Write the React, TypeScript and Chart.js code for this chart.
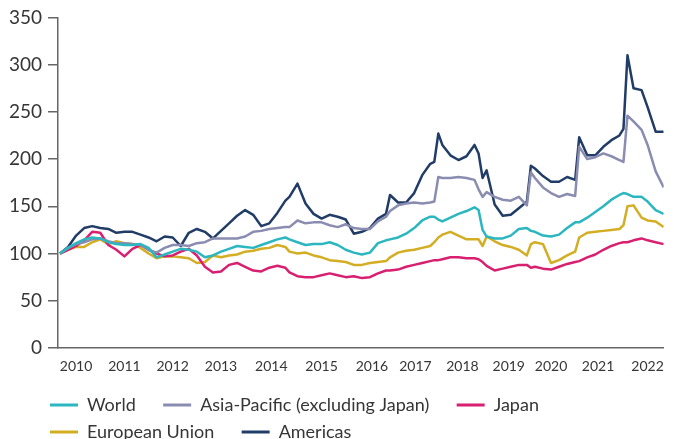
import React, { useEffect, useRef } from 'react';
import { Chart, registerables } from 'chart.js';
Chart.register(...registerables);

// months since January 2010
const months = [0,2,4,6,8,10,12,14,16,18,20,22,24,26,28,30,32,34,36,38,40,42,44,46,48,50,52,54,56,57,59,61,63,65,67,69,71,73,75,77,79,81,82,84,86,88,90,92,93,94,95,97,99,101,103,104,105,106,108,110,112,114,116,117,118,120,122,124,126,128,129,131,133,135,137,139,140,141,142.5,144.5,146,148,150];

const world = [100,106,111,115,117,116,112,110,109,109,
  110,106,96,99,102,105,104,102,96,98,
  102,105,108,107,106,109,112,115,117,115,
  112,109,110,110,112,109,104,101,99,101,
  111,114,115,117,121,127,135,139,139,136,
  134,138,142,145,149,146,125,118,116,116,
  119,126,127,124,123,119,118,120,127,133,
  133,138,144,150,157,162,164,163,160,160,
  155,146,142];

const asiaPacific = [100,106,110,112,115,116,113,111,111,110,
  109,104,101,106,109,109,108,111,112,116,
  116,116,116,118,123,124,126,127,128,128,
  135,132,133,133,130,128,131,127,126,126,
  134,139,145,151,153,154,153,154,155,181,
  180,180,181,180,178,168,160,165,160,157,
  156,160,151,186,180,170,164,160,163,161,
  213,200,202,206,203,199,197,246,240,231,
  215,187,170];

const japan = [100,104,108,114,123,122,109,104,97,105,
  109,104,100,97,98,102,105,98,86,80,
  81,88,90,86,82,81,85,87,85,80,
  76,75,75,77,79,77,75,76,74,75,
  79,82,82,83,86,88,90,92,93,93,
  94,96,96,95,95,94,91,87,82,84,
  86,88,88,85,86,84,83,86,89,91,
  92,96,99,104,108,111,112,112,114,116,
  114,112,110];

const europeanUnion = [100,104,107,107,112,115,110,113,111,110,
  106,100,95,97,97,96,95,90,91,98,
  96,98,99,102,103,105,106,109,107,102,
  100,101,98,96,93,92,91,88,88,90,
  91,92,96,101,103,104,106,108,112,117,
  120,123,119,115,115,115,108,118,113,109,
  107,104,98,110,112,110,90,93,98,102,
  117,122,123,124,125,126,130,150,151,138,
  135,134,128];

const americas = [100,107,119,127,129,127,126,122,123,123,
  120,117,113,118,117,108,122,126,123,116,
  124,132,140,146,141,129,132,143,156,160,
  174,153,142,137,141,139,136,121,123,127,
  137,142,162,154,154,164,183,195,197,227,
  215,204,199,203,215,206,180,188,152,140,
  141,148,155,193,190,182,176,176,181,178,
  223,204,204,213,220,225,232,310,275,273,
  255,229,229];

const yearTickMonths = [4, 16, 28, 40, 52.5, 65, 77.5, 88.3, 100, 111.5, 122, 133.7, 146];
const yearLabels = ['2010','2011','2012','2013','2014','2015','2016','2017','2018','2019','2020','2021','2022'];

const seriesNames = ['World', 'Asia-Pacific (excluding Japan)', 'Japan', 'European Union', 'Americas'];
const seriesColors = ['#2bb6c0', '#8a8cb0', '#d81f70', '#d3ad22', '#213c66'];
const seriesValues = [world, asiaPacific, japan, europeanUnion, americas];

const FONT = "Lato, 'Open Sans', sans-serif";
const TEXT = '#363636';
const AXIS = '#666666';

// moves the legend block so that it starts under the y-axis labels
const legendShift = {
  id: 'legendShift',
  afterLayout(chart: any) {
    const lg = chart.legend;
    if (lg) {
      lg.left += 41;
      lg.right += 41;
    }
  },
};

export default function App() {
  const ref = useRef<HTMLCanvasElement>(null);
  useEffect(() => {
    const canvas = ref.current!;
    const datasets = seriesNames.map((name, k) => ({
      label: name,
      data: months.map((m, i) => ({ x: m, y: seriesValues[k][i] })),
      borderColor: seriesColors[k],
      backgroundColor: seriesColors[k],
      borderWidth: 2.5,
      pointRadius: 0,
      tension: 0,
      fill: false,
      borderJoinStyle: 'round' as const,
    }));
    const chart = new Chart(canvas, {
      type: 'line',
      data: { datasets },
      plugins: [legendShift],
      options: {
        responsive: false,
        animation: false,
        layout: { padding: { left: 0, right: 6, top: 17, bottom: -12 } },
        plugins: {
          tooltip: { enabled: false },
          legend: {
            position: 'bottom',
            align: 'start',
            labels: {
              boxWidth: 28,
              boxHeight: 3,
              padding: 9,
              color: TEXT,
              font: { family: FONT, size: 18 },
              generateLabels: (c: any) =>
                (Chart.defaults.plugins.legend.labels.generateLabels as any)(c).map((it: any) => ({
                  ...it,
                  text: it.text + '    ',
                  lineWidth: 0,
                })),
            },
          },
        },
        scales: {
          x: {
            type: 'linear',
            min: -0.5,
            max: 150,
            afterBuildTicks: (scale: any) => {
              scale.ticks = yearTickMonths.map((v) => ({ value: v }));
            },
            afterFit: (scale: any) => {
              scale.height = 39;
            },
            ticks: {
              autoSkip: false,
              maxRotation: 0,
              padding: 10,
              color: TEXT,
              font: { family: FONT, size: 14 },
              callback: (_v: any, i: number) => yearLabels[i],
            },
            grid: { display: false, drawTicks: false },
            border: { display: true, color: AXIS, width: 1.5 },
          },
          y: {
            min: 0,
            max: 350,
            afterFit: (scale: any) => {
              scale.width = 58;
            },
            ticks: {
              stepSize: 50,
              padding: 6,
              color: TEXT,
              font: { family: FONT, size: 19 },
            },
            grid: { drawOnChartArea: false, drawTicks: true, tickLength: 10, color: AXIS, lineWidth: 1.5 },
            border: { display: true, color: AXIS, width: 1.5 },
          },
        },
      },
    } as any);
    return () => chart.destroy();
  }, []);
  return (
    <div style={{ position: 'fixed', left: 0, top: 0, width: 674, height: 439, background: '#ffffff' }}>
      <canvas ref={ref} width={674} height={439} style={{ display: 'block' }} />
    </div>
  );
}
